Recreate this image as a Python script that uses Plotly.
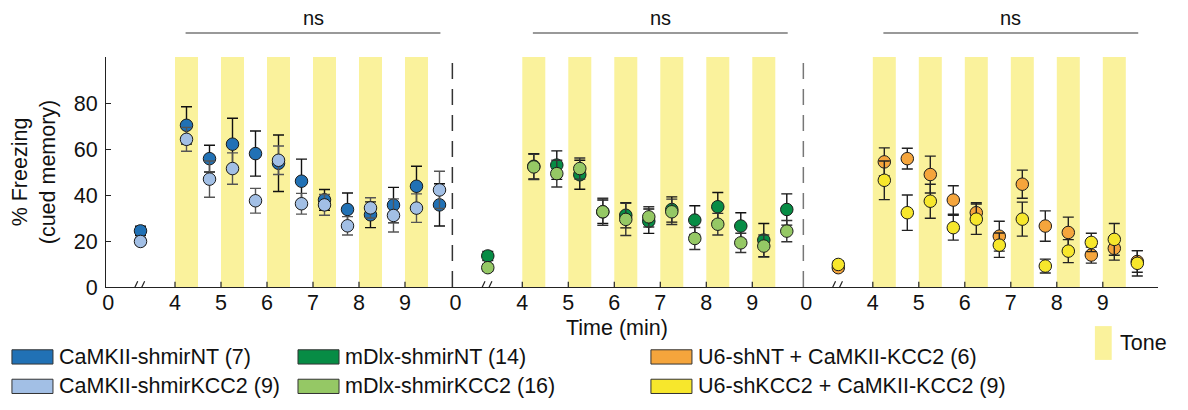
import plotly.graph_objects as go

# ---------------- data ----------------
trial_times = [4.25, 4.75, 5.25, 5.75, 6.25, 6.75, 7.25, 7.75, 8.25, 8.75, 9.25, 9.75]
tone_starts = [4, 5, 6, 7, 8, 9]
tone_len = 0.5
baseline_time = 3.25  # displayed position of the baseline (time 0) point after the axis break

# Panel 1: CaMKII
camk_nt_base, camk_nt_base_err = 24.4, 2.0
camk_nt = [70.3, 55.8, 62.1, 58.0, 53.8, 46.0, 37.9, 33.7, 31.4, 35.6, 43.8, 35.7]
camk_nt_err = [8.1, 5.8, 11.3, 9.8, 12.3, 9.6, 4.5, 7.2, 5.6, 7.7, 8.7, 9.2]
camk_kd_base, camk_kd_base_err = 19.8, 1.5
camk_kd = [64.2, 46.9, 51.5, 37.5, 55.1, 36.2, 35.7, 26.6, 34.4, 31.1, 34.3, 42.2]
camk_kd_err = [5.2, 7.9, 6.8, 5.4, 6.2, 4.5, 4.5, 4.0, 4.4, 7.2, 6.2, 8.1]

# Panel 2: mDlx
mdlx_nt_base, mdlx_nt_base_err = 13.5, 2.0
mdlx_nt = [52.5, 53.0, 48.8, 32.7, 31.2, 28.6, 33.7, 29.1, 34.9, 26.5, 20.4, 33.7]
mdlx_nt_err = [5.5, 6.2, 6.3, 5.1, 5.5, 5.3, 5.5, 6.2, 6.2, 5.8, 7.2, 6.8]
mdlx_kd_base, mdlx_kd_base_err = 8.4, 1.5
mdlx_kd = [52.2, 49.3, 51.5, 32.7, 29.4, 30.5, 32.7, 21.1, 27.3, 19.2, 17.8, 24.3]
mdlx_kd_err = [5.5, 5.8, 4.6, 5.9, 7.0, 4.4, 5.5, 4.8, 4.7, 4.2, 4.8, 4.6]

# Panel 3: U6 + CaMKII-KCC2
u6_nt_base, u6_nt_base_err = 8.4, 1.5
u6_nt = [54.4, 55.8, 48.9, 37.8, 32.3, 22.1, 44.7, 26.5, 23.7, 13.9, 16.8, 11.1]
u6_nt_err = [6.1, 4.5, 8.0, 6.2, 4.3, 6.5, 6.1, 6.6, 6.7, 3.5, 5.1, 4.7]
u6_kd_base, u6_kd_base_err = 9.8, 1.5
u6_kd = [46.4, 32.3, 37.3, 25.8, 29.5, 18.2, 29.5, 9.1, 15.6, 19.4, 20.7, 10.3]
u6_kd_err = [8.4, 7.7, 7.4, 5.4, 6.6, 5.3, 7.4, 3.0, 5.0, 4.0, 6.9, 5.5]

panel_offsets = [0.0, 7.55, 15.17]
zero_tick_pos = 2.55
tick_minutes = [4, 5, 6, 7, 8, 9]

series = [
    # name, color, err color, panel, base, base_err, values, errors
    ("CaMKII-shmirNT (7)", "#2171b5", "#111111", 0, camk_nt_base, camk_nt_base_err, camk_nt, camk_nt_err),
    ("CaMKII-shmirKCC2 (9)", "#a2bfe5", "#555555", 0, camk_kd_base, camk_kd_base_err, camk_kd, camk_kd_err),
    ("mDlx-shmirNT (14)", "#078c45", "#111111", 1, mdlx_nt_base, mdlx_nt_base_err, mdlx_nt, mdlx_nt_err),
    ("mDlx-shmirKCC2 (16)", "#95c865", "#333333", 1, mdlx_kd_base, mdlx_kd_base_err, mdlx_kd, mdlx_kd_err),
    ("U6-shNT + CaMKII-KCC2 (6)", "#f5a53c", "#222222", 2, u6_nt_base, u6_nt_base_err, u6_nt, u6_nt_err),
    ("U6-shKCC2 + CaMKII-KCC2 (9)", "#f7e72c", "#222222", 2, u6_kd_base, u6_kd_base_err, u6_kd, u6_kd_err),
]

tone_color = "#faf29c"
FONT = "Arial, Liberation Sans, sans-serif"
FS = 21.5

fig = go.Figure()

# tone bars
shapes = []
for off in panel_offsets:
    for s in tone_starts:
        shapes.append(dict(type="rect", xref="x", yref="y", x0=off + s, x1=off + s + tone_len,
                           y0=0, y1=100, fillcolor=tone_color, line=dict(width=0), layer="below"))

# data traces
for name, color, ecolor, p, base, base_err, vals, errs in series:
    off = panel_offsets[p]
    xs = [off + baseline_time] + [off + t for t in trial_times]
    ys = [base] + vals
    es = [base_err] + errs
    fig.add_trace(go.Scatter(
        x=xs, y=ys, mode="markers", name=name, showlegend=False,
        marker=dict(size=12.5, color=color, line=dict(color="#1a1a1a", width=1)),
        error_y=dict(type="data", array=es, visible=True, color=ecolor, thickness=1.4, width=5.5),
        cliponaxis=False,
    ))

# panel separators (dashed)
for off_next, dash_col in [(panel_offsets[0] + 10.03, "#333333"), (panel_offsets[1] + 10.11, "#777777")]:
    shapes.append(dict(type="line", xref="x", yref="y", x0=off_next, x1=off_next, y0=0, y1=100,
                       line=dict(color=dash_col, width=1.5, dash="16px,10px")))

# inward x tick marks at the minute ticks
for off in panel_offsets:
    for m in tick_minutes:
        shapes.append(dict(type="line", xref="x", yref="y", x0=off + m, x1=off + m, y0=0, y1=2.3,
                           line=dict(color="#222222", width=1.2)))

# axis breaks "//"
for off in panel_offsets:
    bx = off + baseline_time
    shapes.append(dict(type="rect", xref="x", yref="y", x0=bx - 0.17, x1=bx + 0.08, y0=-1.2, y1=1.2,
                       fillcolor="white", line=dict(width=0), layer="above"))
    for dx in (-0.12, 0.03):
        shapes.append(dict(type="line", xref="x", yref="y", x0=bx + dx - 0.06, x1=bx + dx + 0.06,
                           y0=-2.5, y1=2.5, line=dict(color="#222222", width=1.2)))

# ns brackets
annotations = []
for off in panel_offsets:
    shapes.append(dict(type="line", xref="x", yref="paper", x0=off + trial_times[0] - 0.02,
                       x1=off + trial_times[-1] + 0.02, y0=1.104, y1=1.104,
                       line=dict(color="#777777", width=1.5)))
    annotations.append(dict(x=off + 7.0, y=1.115, xref="x", yref="paper", text="ns", showarrow=False,
                            yanchor="bottom", font=dict(size=20, family=FONT, color="#111111")))

# x tick labels
tickvals, ticktext = [], []
for off in panel_offsets:
    tickvals.append(off + zero_tick_pos)
    ticktext.append("0")
    for m in tick_minutes:
        tickvals.append(off + m)
        ticktext.append(str(m))

# legend (manual)
legend_items = [
    ("CaMKII-shmirNT (7)", "#2171b5", 0, 0),
    ("CaMKII-shmirKCC2 (9)", "#a2bfe5", 0, 1),
    ("mDlx-shmirNT (14)", "#078c45", 1, 0),
    ("mDlx-shmirKCC2 (16)", "#95c865", 1, 1),
    ("U6-shNT + CaMKII-KCC2 (6)", "#f5a53c", 2, 0),
    ("U6-shKCC2 + CaMKII-KCC2 (9)", "#f7e72c", 2, 1),
]
col_x = [-0.0894, 0.1825, 0.518]
rect_w = 0.039
row_y = [-0.304, -0.432]
rect_h = 0.062
for text, color, c, r in legend_items:
    x0 = col_x[c]
    yc = row_y[r]
    shapes.append(dict(type="rect", xref="paper", yref="paper", x0=x0, x1=x0 + rect_w,
                       y0=yc - rect_h / 2, y1=yc + rect_h / 2, fillcolor=color,
                       line=dict(color="#333333", width=1)))
    annotations.append(dict(x=x0 + rect_w + 0.0035, y=yc, xref="paper", yref="paper", text=text,
                            showarrow=False, xanchor="left", yanchor="middle",
                            font=dict(size=FS, family=FONT, color="#111111")))
shapes.append(dict(type="rect", xref="paper", yref="paper", x0=0.940, x1=0.956, y0=-0.317, y1=-0.170,
                   fillcolor=tone_color, line=dict(width=0)))
annotations.append(dict(x=0.962, y=-0.245, xref="paper", yref="paper", text="Tone", showarrow=False,
                        xanchor="left", yanchor="middle", font=dict(size=FS, family=FONT, color="#111111")))

annotations.append(dict(x=0.486, y=-0.178, xref="paper", yref="paper", text="Time (min)", showarrow=False,
                        xanchor="center", yanchor="middle", font=dict(size=FS, family=FONT, color="#111111")))

fig.update_layout(
    width=1180, height=402,
    margin=dict(l=98, r=30, t=49, b=123, autoexpand=False),
    paper_bgcolor="white", plot_bgcolor="white",
    font=dict(family=FONT, size=FS, color="#111111"),
    shapes=shapes, annotations=annotations,
    xaxis=dict(range=[2.5, 25.37], tickvals=tickvals, ticktext=ticktext, showgrid=False, zeroline=False,
               showline=True, linecolor="#222222", linewidth=1.2, ticks="", ticklen=0,
               ticklabelstandoff=-4, automargin=False,
               tickfont=dict(size=FS, family=FONT, color="#111111")),
    yaxis=dict(range=[0, 100], tickvals=[0, 20, 40, 60, 80], showgrid=False, zeroline=False,
               showline=True, linecolor="#222222", linewidth=1.2, ticks="inside", ticklen=5,
               tickcolor="#222222", ticklabelstandoff=3, automargin=False,
               tickfont=dict(size=FS, family=FONT, color="#111111"),
               title=dict(text="% Freezing<br>(cued memory)", standoff=12,
                          font=dict(size=FS, family=FONT, color="#111111"))),
)

fig.write_html("out.html")
